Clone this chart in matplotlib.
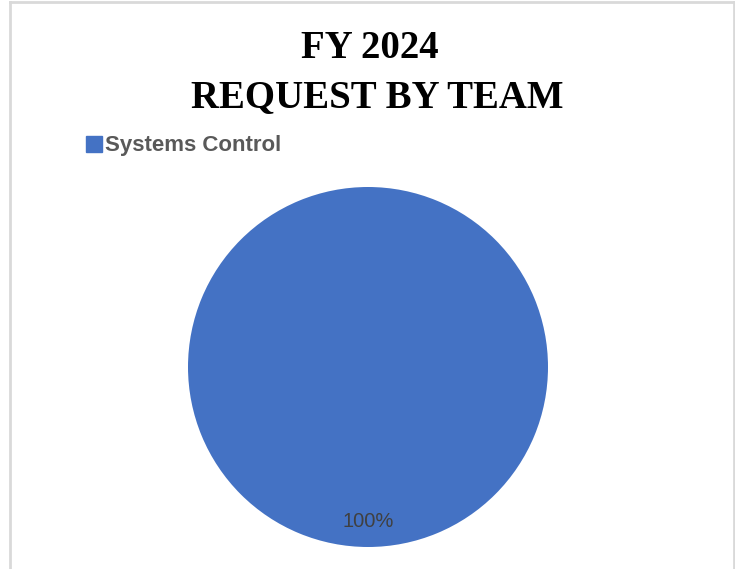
import matplotlib
matplotlib.use("Agg")
import matplotlib.pyplot as plt
from matplotlib.patches import Rectangle
from matplotlib.lines import Line2D

teams = ["Systems Control"]
requests = [1.0]
colors = ["#4472C4"]
title_lines = ["FY 2024", "REQUEST BY TEAM"]

W, H = 735, 569
fig = plt.figure(figsize=(W / 100, H / 100), dpi=100)
fig.patch.set_facecolor("white")

# chart frame (left, top, right edges)
frame_col = "#D9D9D9"
for xs, ys in [((10, 10), (0, 567)), ((10, 734), (567, 567)), ((734, 734), (0, 567))]:
    fig.add_artist(Line2D([x / W for x in xs], [y / H for y in ys],
                          color=frame_col, lw=2, transform=fig.transFigure))

# title
fig.text(370 / W, 1 - 48 / H, title_lines[0], ha="center", va="center",
         fontsize=28, fontweight="bold", family="Liberation Serif")
fig.text(377 / W, 1 - 98 / H, title_lines[1], ha="center", va="center",
         fontsize=28, fontweight="bold", family="Liberation Serif")

# pie
cx, cy, r = 368, 367, 180
ax = fig.add_axes([(cx - r) / W, 1 - (cy + r) / H, 2 * r / W, 2 * r / H])
wedges, texts, autotexts = ax.pie(
    requests, colors=colors, startangle=90, counterclock=False,
    autopct=lambda p: f"{p:.0f}%", pctdistance=0.85,
    textprops=dict(color="#404040", fontsize=14.5, family="Liberation Sans"),
    wedgeprops=dict(linewidth=0))
ax.set_aspect("equal")
ax.set_xlim(-1, 1)
ax.set_ylim(-1, 1)
ax.axis("off")
for t in autotexts:
    t.set_position((0, -0.86))

# legend
handles = [Rectangle((0, 0), 1, 1, color=c) for c in colors]
leg = fig.legend(handles, teams, loc="center left",
                 bbox_to_anchor=(66 / W, 1 - 146 / H), frameon=False,
                 handlelength=0.72, handleheight=0.72, handletextpad=0.15,
                 prop=dict(family="Liberation Sans", weight="bold", size=16))
for t in leg.get_texts():
    t.set_color("#595959")

fig.savefig("out.png", dpi=100, facecolor="white")
